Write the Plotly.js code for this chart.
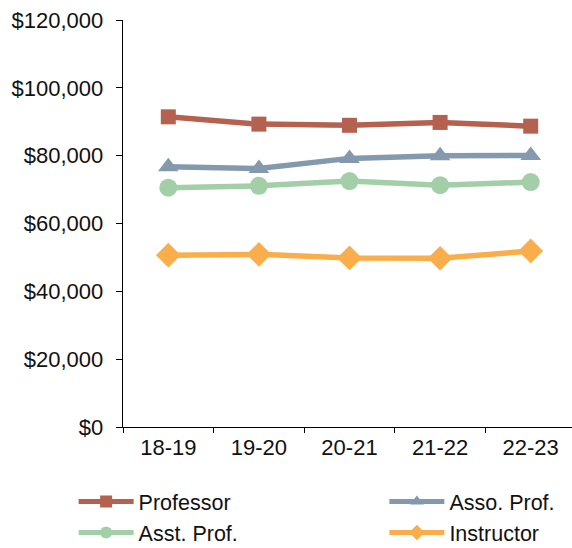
<!DOCTYPE html>
<html>
<head>
<meta charset="utf-8">
<script src="https://cdn.plot.ly/plotly-3.0.1.min.js"></script>
<style>html,body{margin:0;padding:0;overflow:hidden;background:#fff}</style>
</head>
<body>
<div id="chart" style="width:576px;height:560px"></div>
<script>
const years = ["18-19", "19-20", "20-21", "21-22", "22-23"];
const professor = [91450, 89300, 88950, 89800, 88700];
const assoProf = [76700, 76200, 79200, 80000, 80050];
const asstProf = [70550, 71100, 72500, 71300, 72200];
const instructor = [50650, 50900, 49850, 49750, 51900];
const yTickValues = [0, 20000, 40000, 60000, 80000, 100000, 120000];
const yTickLabels = ["$0", "$20,000", "$40,000", "$60,000", "$80,000", "$100,000", "$120,000"];

const seriesNames = ["Professor", "Asso. Prof.", "Asst. Prof.", "Instructor"];
const seriesData = [professor, assoProf, asstProf, instructor];
const colors = ["#B5614F", "#8499AE", "#A2CFA8", "#F9AE4B"];
const symbols = ["square", "triangle-up", "circle", "diamond"];
const sizes = [15, 18, 18, 19];
const legendIds = ["legend", "legend2", "legend", "legend2"];

const traces = seriesData.map((d, i) => ({
  x: years, y: d, name: seriesNames[i], type: "scatter", mode: "lines+markers",
  line: {color: colors[i], width: 5.5},
  marker: {color: colors[i], symbol: symbols[i], size: sizes[i]},
  legend: legendIds[i],
  cliponaxis: false
}));

const legendCommon = {orientation: "v", xanchor: "left", yanchor: "top",
  itemsizing: "constant", itemwidth: 55, bgcolor: "rgba(0,0,0,0)",
  font: {size: 21.5, color: "#111"}, traceorder: "normal"};

const layout = {
  width: 576, height: 560,
  margin: {l: 123, r: 0, t: 20, b: 133},
  paper_bgcolor: "#fff", plot_bgcolor: "#fff",
  font: {family: "Liberation Sans, Arial, sans-serif", size: 22, color: "#111"},
  showlegend: true,
  legend: Object.assign({}, legendCommon, {x: -0.109, y: -0.133}),
  legend2: Object.assign({}, legendCommon, {x: 0.577, y: -0.133}),
  xaxis: {type: "category", range: [-0.5, 4.5], showline: true, linecolor: "#000", linewidth: 1.3,
    ticks: "outside", ticklen: 5, tickcolor: "#000", tickson: "boundaries",
    showgrid: false, zeroline: false, fixedrange: true, automargin: false},
  yaxis: {range: [0, 120000], tickmode: "array", tickvals: yTickValues, ticktext: yTickLabels,
    showline: true, linecolor: "#000", linewidth: 1.3, ticklabelstandoff: 8,
    ticks: "outside", ticklen: 6, tickcolor: "#000", showgrid: false, zeroline: false,
    fixedrange: true, automargin: false}
};

Plotly.newPlot("chart", traces, layout, {displayModeBar: false, staticPlot: true});
</script>
</body>
</html>
